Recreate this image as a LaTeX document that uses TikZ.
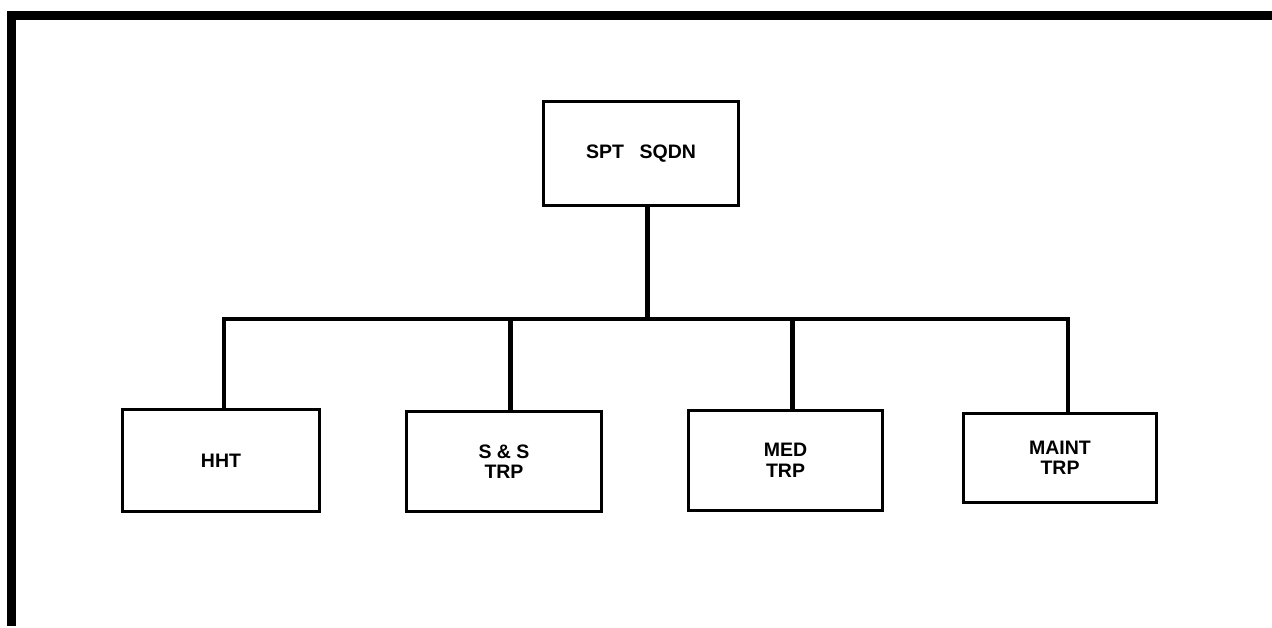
\documentclass[tikz,border=0pt]{standalone}
\usepackage{fontspec}
\setmainfont{Liberation Sans}
\begin{document}
\begin{tikzpicture}[x=1pt,y=-1pt,
  unitbox/.style={draw=black,line width=3pt,rectangle,inner sep=0pt,align=center,
    font=\fontsize{19.5}{20.5}\selectfont\bfseries},
  conn/.style={draw=black,line width=5pt},
  frameline/.style={draw=black,line width=9pt}]
\useasboundingbox (0,0) rectangle (1272,628);
% frame (top and left only)
\coordinate (ftl) at (11,16);
\coordinate (ftr) at (1272,16);
\coordinate (fbl) at (11,626);
\draw[frameline] (ftr) -- (ftl) -- (fbl);
% boxes
\node[unitbox,minimum width=195pt,minimum height=104pt] (root) at (641,153.5) {SPT\hspace{0.8em}SQDN};
\node[unitbox,minimum width=197pt,minimum height=102pt] (hht) at (221,460.5) {HHT};
\node[unitbox,minimum width=195pt,minimum height=100pt] (ss) at (504,461.5) {S \& S\\TRP};
\node[unitbox,minimum width=194pt,minimum height=100pt] (med) at (785.5,460.5) {MED\\TRP};
\node[unitbox,minimum width=193pt,minimum height=89pt] (maint) at (1060,458) {MAINT\\TRP};
% junctions on the bus
\coordinate (j0) at (647,319);
\coordinate (j1) at (224,319);
\coordinate (j2) at (510,319);
\coordinate (j3) at (792,319);
\coordinate (j4) at (1068,319);
% connectors
\draw[conn] (j0 |- root.south) -- (j0);
\draw[conn,line width=4.5pt] (j1 |- hht.north) -- (j1) -- (j4) -- (j4 |- maint.north);
\draw[conn] (j2) -- (j2 |- ss.north);
\draw[conn] (j3) -- (j3 |- med.north);
\end{tikzpicture}
\end{document}
